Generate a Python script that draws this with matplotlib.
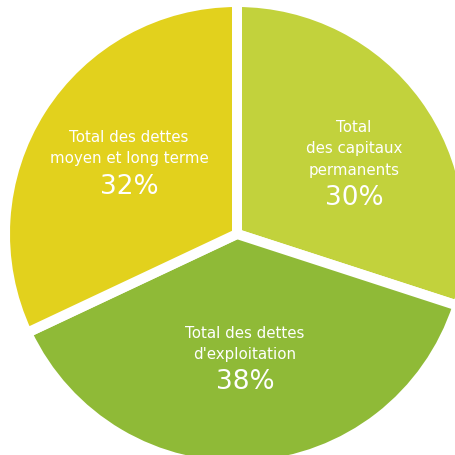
import matplotlib
matplotlib.use("Agg")
import matplotlib.pyplot as plt
import numpy as np

labels = ["Total\ndes capitaux\npermanents", "Total des dettes\nd'exploitation", "Total des dettes\nmoyen et long terme"]
values = [30, 38, 32]
pct_labels = ["30%", "38%", "32%"]
colors = ["#c2d23c", "#8fba37", "#e2d11d"]

W, H = 456, 455
fig = plt.figure(figsize=(W / 100, H / 100), dpi=100)
ax = fig.add_axes([0, 0, 1, 1])

cx, cy = 237, H - 234
R = 232
ax.pie(values, colors=colors, startangle=90, counterclock=False,
       center=(cx, cy), radius=R, frame=True,
       wedgeprops=dict(edgecolor="white", linewidth=7.2))
ax.set_xlim(0, W)
ax.set_ylim(0, H)
ax.set_aspect("equal")
ax.axis("off")

# label anchor offsets (pixels from center): text block x, top line y
anchors = [(117, 106), (8, -99), (-108, 96)]
line_h = 21
for lab, pct, (dx, dy) in zip(labels, pct_labels, anchors):
    lines = lab.split("\n")
    for i, ln in enumerate(lines):
        ax.text(cx + dx, cy + dy - i * line_h, ln, color="white", fontsize=10.8,
                ha="center", va="center", family="DejaVu Sans")
    ax.text(cx + dx, cy + dy - len(lines) * line_h - 7, pct, color="white", fontsize=19,
            ha="center", va="center", family="DejaVu Sans")

fig.savefig("out.png", dpi=100, facecolor="white")
